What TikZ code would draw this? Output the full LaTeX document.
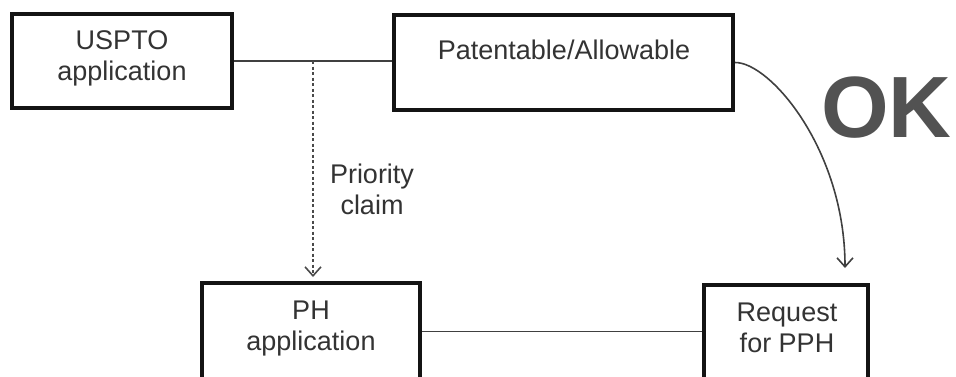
\documentclass[tikz,border=0pt]{standalone}
\usepackage{fontspec}
\setmainfont{Liberation Sans}
\usetikzlibrary{arrows.meta}
\definecolor{boxline}{HTML}{141414}
\definecolor{txtgray}{HTML}{333333}
\definecolor{conngray}{HTML}{404040}
\definecolor{dashgray}{HTML}{4A4A4A}
\definecolor{okgray}{HTML}{525252}
\begin{document}
\begin{tikzpicture}[x=1pt,y=-1pt,
  box/.style={draw=boxline, line width=4pt, fill=white, inner sep=0pt},
  lbl/.style={text=txtgray, font=\fontsize{27}{31}\selectfont, align=center, inner sep=0pt},
  conn/.style={draw=conngray, line width=1.6pt},
  tip/.style={-{Straight Barb[length=9pt,width=16pt,line width=1.6pt]}}
]
\useasboundingbox (0,0) rectangle (956,376);
\fill[white] (0,0) rectangle (956,376);
\clip (0,0) rectangle (956,376);

% boxes
\node[box, minimum width=220pt, minimum height=94pt] (uspto) at (122,61) {};
\node[box, minimum width=339pt, minimum height=95pt] (pat) at (563.5,62.5) {};
\node[box, minimum width=218pt, minimum height=97pt] (ph) at (311,331.5) {};
\node[box, minimum width=164pt, minimum height=97pt] (req) at (786,333.5) {};

% texts
\node[lbl] (usptotext) at (122,58.5) {USPTO\\application};
\node[lbl, anchor=base] (pattext) at (564,59) {Patentable/Allowable};
\node[lbl] (phtext) at (311,328.5) {PH\\application};
\node[lbl] (reqtext) at (787,328) {Request\\for PPH};
\node[lbl] (prio) at (372,189) {Priority\\claim};
\node[anchor=base west, inner sep=0pt, text=okgray,
      font=\bfseries\fontsize{87}{87}\selectfont] (ok) at (821,137) {OK};

% connectors
\draw[conn] (uspto.east) -- (uspto.east -| pat.west);
\coordinate (dstart) at (313,61);
\draw[draw=dashgray, line width=1.7pt, dash pattern=on 3pt off 2.5pt, tip,
      shorten >=4pt] (dstart) -- (dstart |- ph.north);
\coordinate (okend) at (845,268);
\draw[conn, tip] (pat.east) .. controls (770,62) and (845,150) .. (okend);
\draw[conn] (ph.east) -- (ph.east -| req.west);
\end{tikzpicture}
\end{document}
